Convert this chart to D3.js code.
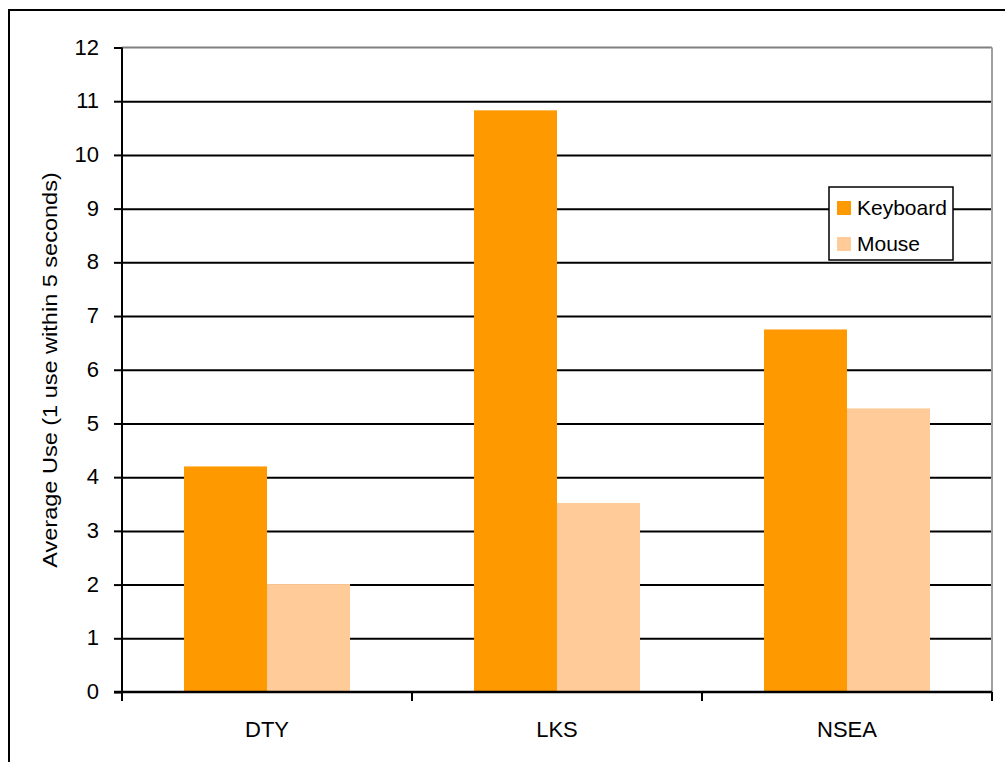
<!DOCTYPE html>
<html><head><meta charset="utf-8">
<script src="https://cdn.jsdelivr.net/npm/d3@7"></script>
<style>body{margin:0;background:#fff;} text{font-family:"Liberation Sans",Arial,sans-serif;}</style>
</head><body>
<svg id="c" width="1005" height="762"></svg>
<script>
const categories = ["DTY", "LKS", "NSEA"];
const seriesNames = ["Keyboard", "Mouse"];
const keyboard = [4.2, 10.83, 6.75];
const mouse = [2.01, 3.52, 5.28];
const yTicks = [0,1,2,3,4,5,6,7,8,9,10,11,12];
const colors = ["#FF9900", "#FFCC99"];
const yTitle = "Average Use (1 use within 5 seconds)";

const svg = d3.select("#c");
const L = 122, R = 992, T = 47.5, B = 692;
svg.append("rect").attr("x",9).attr("y",10).attr("width",1010).attr("height",770)
  .attr("fill","none").attr("stroke","#000").attr("stroke-width",2);

const x = d3.scaleBand().domain(categories).range([L,R]).paddingInner(0).paddingOuter(0);
const y = d3.scaleLinear().domain([0,12]).range([B,T]);
const xs = d3.scaleBand().domain(seriesNames).range([0,x.bandwidth()]).paddingInner(0).paddingOuter(0.747);

// gridlines
svg.append("g").selectAll("line").data(yTicks.filter(d=>d>0 && d<12)).join("line")
  .attr("x1",L).attr("x2",R).attr("y1",d=>y(d)+0.5).attr("y2",d=>y(d)+0.5)
  .attr("stroke","#000").attr("stroke-width",2);
svg.append("line").attr("x1",L).attr("x2",R).attr("y1",y(12)).attr("y2",y(12))
  .attr("stroke","#808080").attr("stroke-width",2);
svg.append("line").attr("x1",R).attr("x2",R).attr("y1",T).attr("y2",B)
  .attr("stroke","#a0a0a0").attr("stroke-width",2);

const data = categories.map((c,i)=>({c, vals:[keyboard[i], mouse[i]]}));
const g = svg.append("g");
data.forEach(d=>{
  d.vals.forEach((v,j)=>{
    g.append("rect").attr("x",x(d.c)+xs(seriesNames[j])).attr("width",xs.bandwidth())
      .attr("y",y(v)).attr("height",B-y(v)).attr("fill",colors[j]);
  });
});

// y axis
const ya = svg.append("g").attr("transform",`translate(${L},0)`)
  .call(d3.axisLeft(y).tickValues(yTicks).tickSize(8).tickPadding(15).tickFormat(d3.format("d")));
ya.select(".domain").attr("stroke","#000").attr("stroke-width",2).attr("d",`M0,${T}V${B+8}`);
ya.selectAll(".tick line").attr("stroke","#000").attr("stroke-width",2);
ya.selectAll(".tick text").attr("font-size",22).attr("fill","#000").attr("dy","0.3em")
  .attr("font-family","Liberation Sans, Arial, sans-serif");

// x axis
const xa = svg.append("g").attr("transform",`translate(0,${B})`);
xa.append("line").attr("x1",L-8).attr("x2",R).attr("y1",0).attr("y2",0).attr("stroke","#000").attr("stroke-width",2.5);
xa.selectAll("line.t").data([0,1,2,3]).join("line").attr("class","t")
  .attr("x1",i=>L+i*x.bandwidth()).attr("x2",i=>L+i*x.bandwidth()).attr("y1",0).attr("y2",9)
  .attr("stroke","#000").attr("stroke-width",2);
xa.selectAll("text").data(categories).join("text")
  .attr("x",d=>x(d)+x.bandwidth()/2).attr("y",45).attr("text-anchor","middle")
  .attr("font-size",22).attr("fill","#000").text(d=>d);

// y title
svg.append("text").attr("transform",`translate(57,370) rotate(-90) scale(1.12,1)`)
  .attr("text-anchor","middle").attr("font-size",21).attr("fill","#000").text(yTitle);

// legend
const lg = svg.append("g");
lg.append("rect").attr("x",829).attr("y",187).attr("width",124).attr("height",73)
  .attr("fill","#fff").attr("stroke","#000").attr("stroke-width",1.5);
seriesNames.forEach((s,i)=>{
  lg.append("rect").attr("x",837).attr("y",201+i*36).attr("width",14).attr("height",14).attr("fill",colors[i]);
  lg.append("text").attr("x",857).attr("y",215+i*36).attr("font-size",21).attr("fill","#000").text(s);
});
</script>
</body></html>
